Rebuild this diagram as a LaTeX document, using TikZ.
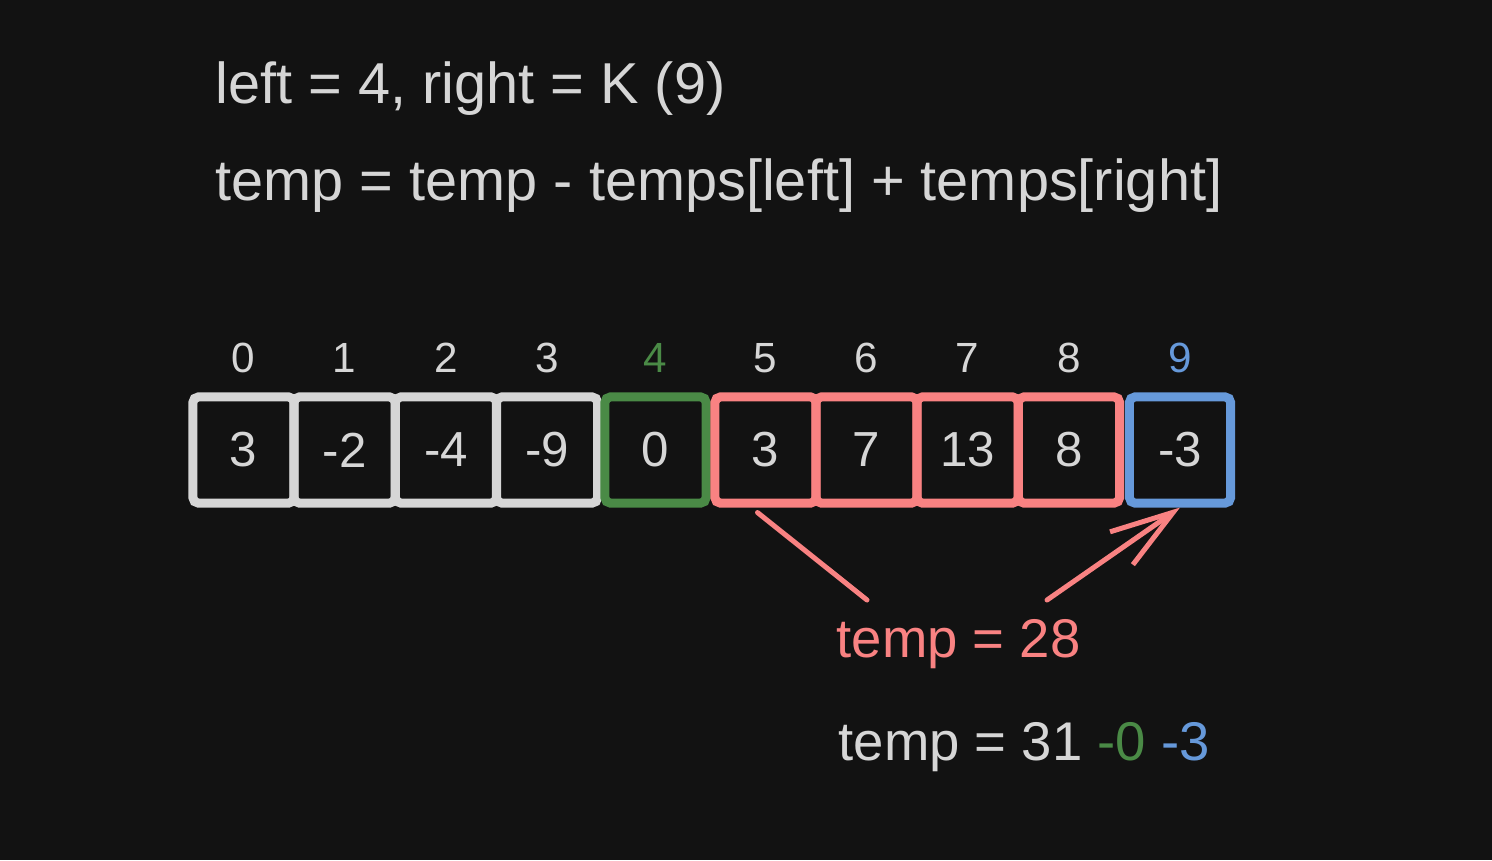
\documentclass[tikz,border=0pt]{standalone}
\usepackage{fontspec}
\setmainfont{Liberation Sans}
\usepackage{xcolor}
\usetikzlibrary{positioning,arrows.meta}
\definecolor{bgdark}{HTML}{121212}
\definecolor{chalk}{HTML}{D6D6D6}
\definecolor{leafgreen}{HTML}{4A8A46}
\definecolor{salmon}{HTML}{F98282}
\definecolor{skyblue}{HTML}{6699DA}

\begin{document}
\begin{tikzpicture}[x=0.01cm,y=-0.01cm]%1 unit = 1px
    \tikzstyle{cell} = [rectangle, minimum width=1.01cm, minimum
    height=1.06cm, inner sep=0pt, line width=0.09cm, rounded
    corners=1.5pt, text=chalk, font=\fontsize{14}{16}\selectfont]
    \tikzstyle{idx} = [anchor=base, inner sep=0pt, text=chalk,
    font=\fontsize{12}{14}\selectfont] \tikzstyle{line} = [anchor=base
    west, inner sep=0pt, text=chalk, font=\fontsize{15.5}{18}\selectfont]
    \tikzstyle{title} = [line, font=\fontsize{16.4}{19}\selectfont]
    \tikzstyle{link} = [draw=salmon, line width=0.05cm, line cap=round]
    \fill[bgdark] (0,0) rectangle (1492,860);
    \useasboundingbox (0,0) rectangle (1492,860);
    \node[title] (l1) at (215,103) {left = 4, right = K (9)};
    \node[title] (l2) at (215,200) {temp = temp - temps[left] + temps[right]};
    \node[cell,draw=chalk] (v0) at (243.5,450) {3}; \node[cell,draw=chalk]
    (v1) at (344.5,450) {-2}; \node[cell,draw=chalk] (v2) at (446,450)
    {-4}; \node[cell,draw=chalk] (v3) at (547,450) {-9};
    \node[cell,draw=leafgreen] (v4) at (655.5,450) {0};
    \node[cell,draw=salmon] (v5) at (765.5,450) {3}; \node[cell,draw=salmon]
    (v6) at (866.5,450) {7}; \node[cell,draw=salmon] (v7) at (967.5,450)
    {13}; \node[cell,draw=salmon] (v8) at (1069,450) {8};
    \node[cell,draw=skyblue] (v9) at (1180,450) {-3};
    \node[idx] (i0) at (243.5,372) {0}; \node[idx] (i1) at (344.5,372) {1};
    \node[idx] (i2) at (446,372) {2}; \node[idx] (i3) at (547,372) {3};
    \node[idx,text=leafgreen] (i4) at (655.5,372) {4}; \node[idx] (i5) at
    (765.5,372) {5}; \node[idx] (i6) at (866.5,372) {6}; \node[idx] (i7)
    at (967.5,372) {7}; \node[idx] (i8) at (1069,372) {8};
    \node[idx,text=skyblue] (i9) at (1180,372) {9};
    \node[line,text=salmon] (t28) at (836,657) {temp = 28};
    \node[line] (t31) at (838,760) {temp = 31 {\color{leafgreen}-0}
      {\color{skyblue}-3}};
    \coordinate (a1) at (867,600); \coordinate (a2) at (1047,600);
    \draw[link] ([shift={(-8,5)}]v5.south) -- (a1);
    \draw[link,-{Straight Barb[length=0.63cm,width=0.4cm]}] (a2) --
    (v9.south);
  \end{tikzpicture}
\end{document}
